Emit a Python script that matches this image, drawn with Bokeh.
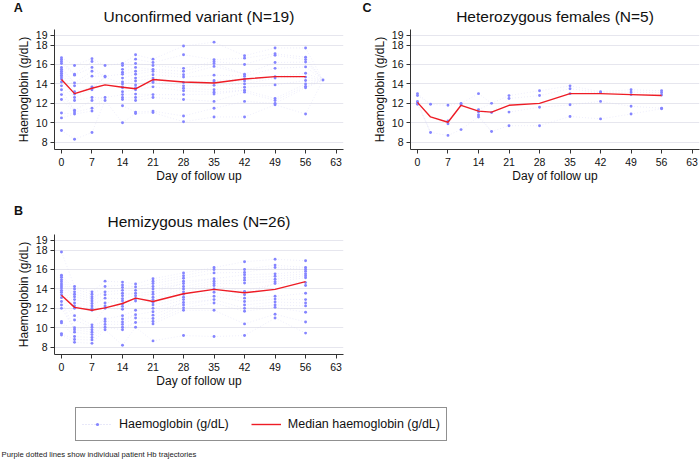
from bokeh.plotting import figure
from bokeh.layouts import column, row
from bokeh.models import Range1d, FixedTicker, Label, Legend, LegendItem, Spacer
from bokeh.embed import file_html
from bokeh.resources import INLINE

FONT = "Liberation Sans"

# ---------------- data ----------------
days = [0, 3, 7, 10, 14, 17, 21, 28, 35, 42, 49, 56]
x_ticks = [0, 7, 14, 21, 28, 35, 42, 49, 56, 63]
y_ticks = [8, 10, 12, 14, 16, 18, 19]

unconfirmed_hb = {
    0: [16.7, 16.5, 16.3, 16.1, 15.7, 15.5, 15.3, 15.1, 14.9, 14.7, 14.5, 14.2, 13.8, 13.4, 12.9, 12.4, 11.0, 10.5, 9.2],
    3: [15.9, 15.0, 14.9, 14.1, 13.8, 13.2, 12.95, 12.6, 12.3, 11.3, 11.1, 10.9, 8.3],
    7: [16.6, 16.3, 15.7, 15.3, 14.8, 13.7, 13.6, 13.4, 12.6, 12.3, 11.5, 11.2, 9.0],
    10: [15.9, 14.8, 14.7, 12.6, 12.3],
    14: [16.1, 15.9, 15.5, 15.2, 15.0, 14.6, 14.2, 14.0, 13.7, 13.6, 13.2, 12.9, 12.6, 12.4, 11.75, 10.0],
    17: [17.0, 16.55, 16.1, 15.7, 15.3, 15.0, 14.6, 14.3, 13.9, 13.6, 13.4, 12.95, 12.6, 12.3, 11.1, 10.95],
    21: [16.55, 16.2, 15.9, 15.5, 15.3, 14.95, 14.6, 14.3, 14.15, 13.7, 12.9, 12.6, 11.2, 11.05],
    28: [17.9, 17.0, 15.6, 15.3, 14.95, 14.7, 14.15, 13.8, 13.55, 13.3, 12.9, 12.4, 10.7, 10.1],
    35: [18.3, 16.5, 16.3, 16.1, 15.8, 14.9, 14.35, 14.2, 13.85, 13.4, 13.15, 12.95, 12.2, 11.5, 10.6],
    42: [16.9, 16.65, 16.0, 15.0, 14.8, 14.5, 14.3, 14.0, 13.65, 13.35, 13.15, 12.2, 10.6],
    49: [17.7, 17.1, 16.95, 16.2, 15.6, 14.75, 14.6, 13.9, 12.5, 12.3, 12.0, 11.85],
    56: [17.7, 16.75, 16.5, 16.25, 15.75, 15.1, 14.7, 14.35, 14.0, 13.75, 13.6, 10.9],
    60: [14.4],
}
unconfirmed_median = [14.45, 13.0, 13.55, 13.9, 13.65, 13.5, 14.45, 14.2, 14.1, 14.5, 14.75, 14.75]

hemizygous_hb = {
    0: [17.8, 15.4, 15.2, 14.95, 14.75, 14.5, 14.3, 14.1, 13.85, 13.65, 13.4, 13.1, 12.7, 12.35, 12.0, 10.65, 10.5, 9.4, 9.25],
    3: [14.25, 14.0, 13.7, 13.45, 13.2, 12.9, 12.55, 12.25, 12.0, 11.25, 10.8, 10.0, 9.8, 9.55, 9.1, 8.8, 8.5],
    7: [13.7, 13.45, 13.2, 13.0, 12.75, 12.5, 12.25, 12.0, 11.8, 10.3, 10.05, 9.8, 9.55, 9.3, 9.0, 8.75, 8.4],
    10: [14.8, 14.25, 13.7, 13.4, 13.05, 12.55, 12.25, 12.0, 10.9, 10.65, 10.35, 10.05, 9.8],
    14: [14.7, 14.4, 14.15, 13.85, 13.55, 13.3, 13.0, 12.75, 12.45, 12.2, 11.9, 11.25, 10.9, 10.6, 10.35, 10.05, 9.8, 8.2],
    17: [14.5, 14.2, 13.85, 13.55, 13.3, 13.0, 12.75, 11.8, 11.35, 11.0, 10.55, 10.05],
    21: [15.05, 14.8, 14.55, 14.25, 14.0, 13.7, 13.45, 13.15, 12.9, 12.6, 12.35, 12.0, 11.65, 11.3, 10.95, 10.65, 10.4, 8.65],
    28: [15.65, 15.35, 15.1, 14.8, 14.55, 14.25, 14.0, 13.7, 13.45, 13.15, 12.9, 12.6, 12.35, 12.05, 11.8, 9.2],
    35: [16.2, 16.0, 15.65, 15.05, 14.8, 14.55, 14.35, 14.0, 13.65, 13.25, 12.9, 12.55, 11.8, 9.1],
    42: [16.8, 16.0, 15.7, 15.45, 15.15, 14.9, 14.6, 13.75, 13.4, 13.05, 12.7, 12.35, 12.0, 11.7, 10.4, 9.2],
    49: [17.05, 16.45, 16.2, 15.55, 15.3, 15.0, 14.75, 14.55, 13.25, 12.95, 12.65, 12.35, 12.1, 11.4, 11.0],
    56: [16.9, 16.2, 16.0, 15.8, 15.55, 15.35, 15.15, 14.65, 14.35, 13.55, 12.9, 12.55, 12.25, 11.6, 10.6, 9.45],
}
hemizygous_median = [13.35, 12.1, 11.8, 12.05, 12.5, 13.05, 12.7, 13.5, 13.95, 13.6, 13.95, 14.75]

heterozygous_hb = {
    0: [13.0, 12.8, 12.2, 12.05, 11.9],
    3: [11.9, 9.0],
    7: [11.8, 10.2, 9.9, 8.7],
    10: [12.0, 11.85, 9.3],
    14: [13.0, 11.35, 11.1, 10.8, 10.6],
    17: [12.0, 11.05, 9.1],
    21: [12.8, 12.5, 11.1, 9.7],
    28: [13.3, 12.8, 11.6, 9.7],
    35: [13.8, 13.5, 13.0, 11.85, 10.65],
    42: [13.2, 13.1, 12.2, 10.4],
    49: [13.4, 13.15, 12.9, 11.7, 10.9],
    56: [13.3, 13.1, 12.85, 11.5, 11.45],
}
heterozygous_median = [12.1, 10.6, 10.05, 11.8, 11.2, 11.1, 11.8, 12.0, 13.0, 13.0, 12.9, 12.8]

# ---------------- style ----------------
DOT = "#8585ff"
TRAJ = "#d2d2f4"
RED = "#ee1c25"
AXIS = "#333333"
TEXT = "#111111"


def make_panel(values, medians, width, height, left, right, bottom):
    p = figure(width=width, height=height, output_backend="svg", toolbar_location=None,
               x_range=Range1d(-1.6, 64.7), y_range=Range1d(7.25, 19.6),
               min_border_left=left, min_border_right=right,
               min_border_top=0, min_border_bottom=bottom)
    p.outline_line_color = None
    p.background_fill_color = "white"
    p.border_fill_color = "white"

    # individual trajectories (faint dotted) - rank-matched between visits
    xs, ys = [], []
    keys = sorted(values)
    for d0, d1 in zip(keys[:-1], keys[1:]):
        v0 = sorted(values[d0])
        v1 = sorted(values[d1])
        n0, n1 = len(v0), len(v1)
        for i, v in enumerate(v0):
            j = round(i * (n1 - 1) / (n0 - 1)) if n0 > 1 else (n1 - 1) // 2
            xs.append([d0, d1])
            ys.append([v, v1[j]])
    p.multi_line(xs, ys, line_color=TRAJ, line_width=0.7, line_dash="1 2", line_alpha=0.55)

    px, py = [], []
    for d in keys:
        for v in values[d]:
            px.append(d)
            py.append(v)
    p.scatter(px, py, size=2.9, marker="circle", fill_color=DOT, line_color=None)

    p.line(days, medians, line_color=RED, line_width=1.4)

    p.xaxis.ticker = FixedTicker(ticks=x_ticks)
    p.yaxis.ticker = FixedTicker(ticks=y_ticks)
    p.xaxis.axis_label = "Day of follow up"
    p.yaxis.axis_label = "Haemoglobin (g/dL)"
    for ax in (p.xaxis[0], p.yaxis[0]):
        ax.axis_label_text_font = FONT
        ax.axis_label_text_font_size = "12px"
        ax.axis_label_text_font_style = "normal"
        ax.axis_label_text_color = TEXT
        ax.major_label_text_font = FONT
        ax.major_label_text_font_size = "10.5px"
        ax.major_label_text_color = TEXT
        ax.axis_line_color = AXIS
        ax.major_tick_line_color = AXIS
        ax.major_tick_in = 0
        ax.major_tick_out = 4
        ax.minor_tick_line_color = None
    p.xaxis.major_label_standoff = 4
    p.xaxis.axis_label_standoff = 0
    p.yaxis.major_label_standoff = 3
    p.yaxis.axis_label_standoff = 2
    p.xgrid.visible = False
    p.ygrid.grid_line_color = "#e6e6ee"
    p.ygrid.grid_line_width = 1
    return p


def make_header(items):
    h = figure(width=700, height=29, output_backend="svg", toolbar_location=None,
               x_range=Range1d(0, 700), y_range=Range1d(0, 29), min_border=0)
    h.axis.visible = False
    h.grid.visible = False
    h.outline_line_color = None
    for text, x, y, size, style in items:
        h.add_layout(Label(x=x, y=y, text=text, text_align="center", text_baseline="middle",
                           text_font=FONT, text_font_size=size, text_font_style=style,
                           text_color=TEXT))
    return h


head1 = make_header([("A", 17.7, 21.5, "12.5px", "bold"),
                     ("Unconfirmed variant (N=19)", 198.5, 12.8, "15.5px", "normal"),
                     ("C", 366.5, 21.5, "12.5px", "bold"),
                     ("Heterozygous females (N=5)", 554.5, 12.8, "15.5px", "normal")])
head2 = make_header([("B", 18.0, 24.0, "12.5px", "bold"),
                     ("Hemizygous males (N=26)", 198.5, 13.2, "15.5px", "normal")])

pA = make_panel(unconfirmed_hb, unconfirmed_median, 350, 176, 54, 7, 56)
pC = make_panel(heterozygous_hb, heterozygous_median, 350, 176, 60, 1, 56)
pB = make_panel(hemizygous_hb, hemizygous_median, 350, 161, 54, 7, 41)

# legend + footnote strip
nan = float("nan")
lf = figure(width=700, height=66, output_backend="svg", toolbar_location=None,
            x_range=Range1d(0, 700), y_range=Range1d(0, 66), min_border=0)
lf.axis.visible = False
lf.grid.visible = False
lf.outline_line_color = None
r_traj = lf.line([nan], [nan], line_color="#c4c4f0", line_width=0.8, line_dash="1 2")
r_dot = lf.scatter([nan], [nan], size=2.9, marker="circle", fill_color=DOT, line_color=None)
r_med = lf.line([nan], [nan], line_color=RED, line_width=1.4)
leg = Legend(items=[LegendItem(label="Haemoglobin (g/dL)", renderers=[r_traj, r_dot]),
                    LegendItem(label="Median haemoglobin (g/dL)", renderers=[r_med])],
             orientation="horizontal", location=(75, 20), margin=0, padding=6,
             spacing=22, glyph_width=30, glyph_height=8, label_height=20, label_standoff=7,
             label_text_font=FONT, label_text_font_size="12.5px", label_text_color=TEXT,
             border_line_color="#222222", border_line_width=1,
             background_fill_color="white", background_fill_alpha=1)
lf.add_layout(leg)
lf.add_layout(Label(x=1, y=7, x_units="screen", y_units="screen",
                    text="Purple dotted lines show individual patient Hb trajectories",
                    text_align="left", text_baseline="middle", text_font=FONT,
                    text_font_size="7.7px", text_color="#222222"))

layout = column(head1, row(pA, pC), head2, row(pB, Spacer(width=350, height=161)), lf)

open("out.html", "w").write(file_html(layout, INLINE))
